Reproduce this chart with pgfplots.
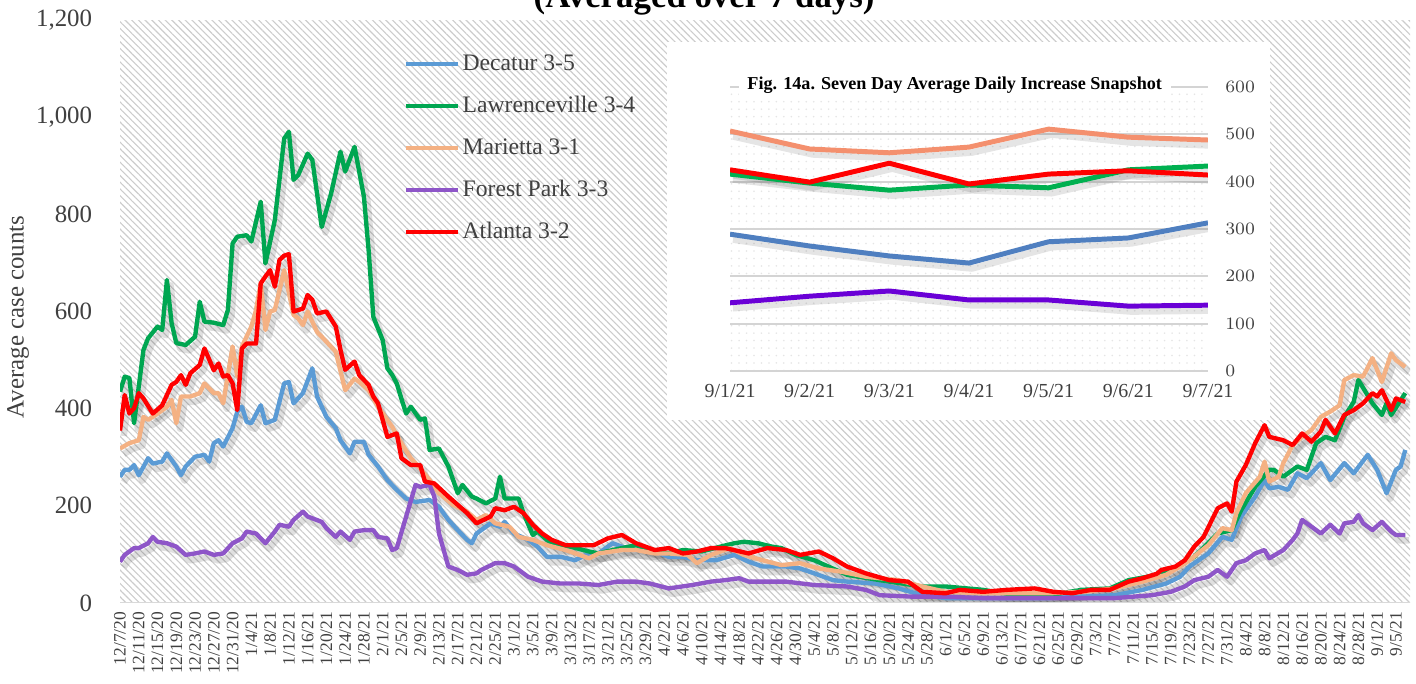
\documentclass[border=0pt]{standalone}
\usepackage{pgfplots}
\pgfplotsset{compat=1.18}
\usepackage{pgfplotstable}
\usepackage{fontspec}
\setmainfont{Liberation Serif}
\usetikzlibrary{patterns,patterns.meta}
\definecolor{cblue}{HTML}{5B9BD5}
\definecolor{cgreen}{HTML}{00A651}
\definecolor{cpeach}{HTML}{F4B183}
\definecolor{cpurple}{HTML}{8E56C8}
\definecolor{cred}{HTML}{FF0000}
\definecolor{iorange}{HTML}{F4906E}
\definecolor{iblue}{HTML}{4F7FC0}
\definecolor{igreen}{HTML}{00B050}
\definecolor{ipurple}{HTML}{6A00D6}
\definecolor{txt}{HTML}{404040}

\pgfplotstableread{
d v
0 260
1 274
2 274
3 284
4 263
6 298
7 287
9 291
10 308
12 281
13 263
14 281
16 301
18 305
19 291
20 329
21 335
22 322
24 360
25 394
26 404
27 373
28 370
30 407
31 370
33 377
35 452
36 455
37 411
39 432
41 483
42 425
44 383
46 360
47 335
49 308
50 332
52 332
53 305
55 281
57 253
59 233
61 215
63 208
66 212
68 198
70 171
72 150
74 130
75 123
76 143
79 164
81 157
82 167
84 143
87 130
89 116
91 95
94 95
97 88
100 102
102 102
105 123
107 116
110 109
114 106
117 95
120 95
123 88
127 88
131 99
134 85
137 75
142 75
145 71
148 61
152 47
155 44
161 40
166 30
171 16
176 10
184 10
191 10
198 10
205 13
212 16
218 27
223 40
226 54
228 75
232 102
235 136
237 130
239 178
242 219
244 253
245 236
247 239
249 233
251 267
253 257
256 288
258 253
261 288
263 267
266 305
268 274
270 226
272 274
273 281
274 315
}\tblue

\pgfplotstableread{
d v
0 435
1 466
2 463
3 370
5 521
6 545
8 569
9 562
10 665
11 576
12 535
14 531
16 548
17 620
18 579
20 577
22 572
23 603
24 740
25 754
27 757
28 744
30 826
31 699
33 788
35 956
36 970
37 871
38 881
40 925
41 912
43 774
45 843
47 929
48 888
50 939
52 836
53 726
54 589
56 541
57 483
58 470
59 452
60 420
61 390
62 404
64 377
65 380
66 315
68 318
70 281
72 226
73 243
75 219
76 215
78 205
80 215
81 260
82 215
85 215
86 185
88 140
89 147
91 130
93 119
96 116
100 106
102 102
105 109
110 119
112 113
117 102
120 109
124 106
128 116
131 123
133 126
136 123
139 116
141 113
144 99
148 88
155 58
162 47
171 34
176 34
184 27
191 16
198 16
205 27
211 30
215 47
219 54
223 64
225 71
229 95
234 143
237 150
239 191
242 239
245 274
246 274
248 260
251 281
253 274
255 329
257 342
259 335
261 383
263 414
264 459
267 411
269 387
270 411
271 387
274 432
}\tgreen

\pgfplotstableread{
d v
0 318
2 329
4 335
5 383
6 377
8 390
10 404
11 418
12 370
13 425
15 425
17 432
18 452
20 432
21 432
22 411
24 528
25 466
26 528
28 569
29 603
30 658
31 562
32 600
33 603
35 685
37 593
38 586
39 572
40 600
42 558
44 538
46 517
48 438
50 462
51 455
53 438
55 404
58 363
60 329
62 298
64 277
66 253
68 226
71 202
74 188
76 171
78 181
80 164
83 157
85 136
88 130
91 119
95 109
100 92
102 102
107 109
110 109
114 102
117 102
121 99
123 82
126 99
130 113
133 99
137 88
141 78
145 82
149 71
154 64
159 54
166 47
171 34
176 23
184 20
191 20
198 20
205 23
212 30
218 44
223 58
226 75
228 88
232 119
235 154
237 150
238 185
240 226
243 260
244 291
245 250
247 260
248 288
250 325
252 342
254 356
256 383
258 394
260 407
261 459
263 469
265 466
267 504
269 455
271 514
272 500
274 486
}\tpeach

\pgfplotstableread{
d v
0 85
1 99
3 113
4 113
6 123
7 136
8 126
10 123
12 116
14 99
16 102
18 106
20 99
22 102
24 123
26 133
27 147
29 143
31 123
33 147
34 161
36 157
37 171
39 188
40 178
43 167
44 154
46 136
47 147
49 130
50 147
52 150
54 150
55 136
57 133
58 109
59 113
61 178
63 243
64 239
66 243
67 219
68 143
70 75
72 68
74 58
76 61
77 68
80 82
82 82
84 75
85 68
87 54
90 44
94 40
98 40
102 37
106 44
110 44
113 40
117 30
122 37
126 44
129 47
132 51
134 44
138 44
142 44
148 37
155 34
159 27
162 16
169 13
176 13
184 10
191 10
198 10
205 10
212 10
216 13
220 16
224 23
227 34
229 47
232 54
234 68
236 54
238 82
240 88
242 102
244 109
245 92
248 109
250 130
251 143
252 171
254 157
256 143
258 161
260 143
261 164
263 167
264 181
265 164
267 150
269 167
271 147
272 140
274 140
}\tpurple

\pgfplotstableread{
d v
0 355
1 428
2 390
3 401
4 432
5 421
7 390
9 407
11 449
12 455
13 469
14 449
15 473
17 490
18 524
20 479
21 493
22 466
23 469
24 452
25 397
26 524
27 534
29 534
30 658
31 672
32 685
33 651
34 706
35 715
36 718
37 600
39 606
40 634
41 624
42 596
44 600
46 569
47 521
48 480
50 497
51 469
53 449
54 425
55 411
57 342
59 349
60 298
62 284
64 284
65 250
67 246
70 219
72 202
74 185
76 164
79 178
80 195
82 191
84 198
86 185
88 161
90 143
92 130
95 119
98 119
101 119
104 133
107 140
110 123
114 109
117 113
120 102
123 106
126 113
129 113
134 102
138 113
142 109
145 99
149 106
152 92
155 75
159 61
164 47
168 44
171 23
176 20
179 27
184 23
189 27
195 30
199 23
203 20
207 27
211 27
215 44
218 51
221 60
222 68
225 75
227 88
229 116
231 136
234 195
236 205
237 188
238 250
240 284
242 329
244 366
245 342
248 335
250 325
252 349
254 332
256 353
257 377
259 349
261 387
263 397
265 411
267 432
268 425
269 438
271 397
272 421
274 414
}\tred

\pgfplotstableread{
x or rd gr bl pu
0 507 425 416 289 144
1 469 399 397 264 158
2 461 439 382 243 169
3 473 395 393 228 150
4 511 416 387 273 150
5 494 423 425 281 137
6 488 414 433 313 139
}\tinset

\begin{document}
\begin{tikzpicture}
\begin{axis}[
  at={(0,0)}, anchor=south west,
  scale only axis, width=18.22cm, height=8.234cm,
  xmin=0, xmax=275, ymin=0, ymax=1200,
  axis line style={draw=none}, tick style={draw=none},
  axis background/.style={pattern={Lines[angle=-45,distance=1.9pt,line width=0.45pt]}, pattern color=black!20},
  ytick={0,200,...,1200}, yticklabels={0,200,400,600,800,{1,000},{1,200}},
  yticklabel style={font=\fontsize{10}{12}\selectfont, text=txt, xshift=-0.27cm},
  xtick={0,4,...,272},
  xticklabels={12/7/20,12/11/20,12/15/20,12/19/20,12/23/20,12/27/20,12/31/20,1/4/21,1/8/21,1/12/21,1/16/21,1/20/21,1/24/21,1/28/21,2/1/21,2/5/21,2/9/21,2/13/21,2/17/21,2/21/21,2/25/21,3/1/21,3/5/21,3/9/21,3/13/21,3/17/21,3/21/21,3/25/21,3/29/21,4/2/21,4/6/21,4/10/21,4/14/21,4/18/21,4/22/21,4/26/21,4/30/21,5/4/21,5/8/21,5/12/21,5/16/21,5/20/21,5/24/21,5/28/21,6/1/21,6/5/21,6/9/21,6/13/21,6/17/21,6/21/21,6/25/21,6/29/21,7/3/21,7/7/21,7/11/21,7/15/21,7/19/21,7/23/21,7/27/21,7/31/21,8/4/21,8/8/21,8/12/21,8/16/21,8/20/21,8/24/21,8/28/21,9/1/21,9/5/21},
  xticklabel style={rotate=90, anchor=east, font=\fontsize{7}{8}\selectfont, text=txt},
  legend cell align=left,
  legend image code/.code={\draw[#1] (0cm,0cm) -- (0.73cm,0cm);},
  legend style={at={(0.2195,0.953)}, anchor=north west, draw=none, fill=none, inner sep=0pt,
    font=\fontsize{9.5}{11}\selectfont, text=txt, row sep=3.9pt,
    nodes={inner ysep=2pt, inner xsep=1.2pt, text height=7pt, text depth=2pt}},
  every axis plot/.append style={line join=round, line width=1.75pt},
  shadow/.style={black, opacity=0.12, line width=2.6pt, xshift=1.5pt, yshift=-2.2pt, forget plot},
]
\addplot[shadow] table[x=d,y=v] {\tblue};
\addplot[shadow] table[x=d,y=v] {\tgreen};
\addplot[shadow] table[x=d,y=v] {\tpeach};
\addplot[shadow] table[x=d,y=v] {\tpurple};
\addplot[shadow] table[x=d,y=v] {\tred};
\addplot[cblue] table[x=d,y=v] {\tblue};
\addlegendentry{Decatur 3-5}
\addplot[cgreen] table[x=d,y=v] {\tgreen};
\addlegendentry{Lawrenceville 3-4}
\addplot[cpeach] table[x=d,y=v] {\tpeach};
\addlegendentry{Marietta 3-1}
\addplot[cpurple] table[x=d,y=v] {\tpurple};
\addlegendentry{Forest Park 3-3}
\addplot[cred] table[x=d,y=v] {\tred};
\addlegendentry{Atlanta 3-2}
\draw[black!15, line width=1pt] (rel axis cs:0,0) -- (rel axis cs:1,0);
\end{axis}

\node[rotate=90, font=\fontsize{10}{12}\selectfont, text=txt] at (-1.44cm,4.04cm) {Average case counts};
\node[anchor=base, font=\bfseries\fontsize{14}{16}\selectfont] at (8.25cm,8.404cm) {(Averaged over 7 days)};

\fill[white] (7.726cm,2.585cm) rectangle (16.243cm,7.924cm);
\begin{axis}[
  at={(8.616cm,3.277cm)}, anchor=south west,
  scale only axis, width=6.751cm, height=4.011cm,
  xmin=0, xmax=6, ymin=0, ymax=600,
  axis line style={draw=none}, tick style={draw=none},
  axis background/.style={pattern={Dots[distance=3pt,radius=0.35pt]}, pattern color=black!10},
  ytick={0,100,...,600}, ymajorgrids, grid style={color=black!17, line width=0.8pt},
  yticklabel pos=right,
  yticklabel style={anchor=west, xshift=0.12cm, font=\fontsize{7.5}{9}\selectfont, text=txt},
  xtick={0,...,6}, xticklabels={9/1/21,9/2/21,9/3/21,9/4/21,9/5/21,9/6/21,9/7/21},
  xticklabel style={font=\fontsize{8}{9}\selectfont, text=txt, yshift=-0.07cm},
  every axis plot/.append style={line join=round, line width=2pt},
  shadow/.style={black, opacity=0.1, line width=2.6pt, xshift=1.2pt, yshift=-2.2pt, forget plot},
]
\addplot[shadow] table[x=x,y=or] {\tinset};
\addplot[shadow] table[x=x,y=bl] {\tinset};
\addplot[shadow] table[x=x,y=gr] {\tinset};
\addplot[shadow] table[x=x,y=pu] {\tinset};
\addplot[shadow] table[x=x,y=rd] {\tinset};
\addplot[iorange] table[x=x,y=or] {\tinset};
\addplot[iblue] table[x=x,y=bl] {\tinset};
\addplot[igreen] table[x=x,y=gr] {\tinset};
\addplot[ipurple] table[x=x,y=pu] {\tinset};
\addplot[cred] table[x=x,y=rd] {\tinset};
\end{axis}
\node[fill=white, inner xsep=0.12cm, inner ysep=1pt, font=\bfseries\fontsize{7.3}{8.5}\selectfont] at (11.79cm,7.316cm) {Fig. 14a. Seven Day Average Daily Increase Snapshot};

\pgfresetboundingbox
\path (-1.695cm,-1.144cm) rectangle (18.305cm,8.517cm);
\end{tikzpicture}
\end{document}
